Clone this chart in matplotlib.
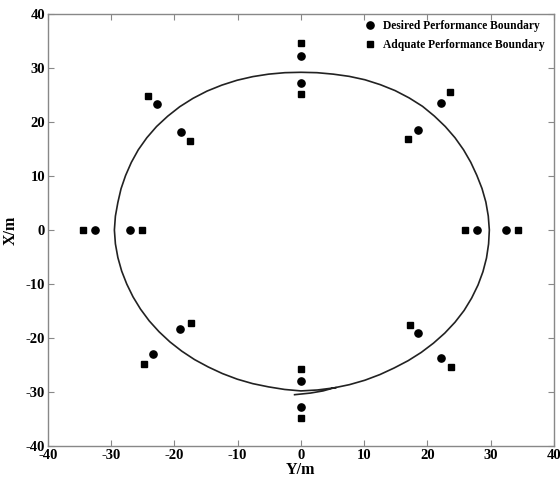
import matplotlib
matplotlib.use("Agg")
import matplotlib.pyplot as plt

plt.rcParams['font.family'] = ['Liberation Serif', 'DejaVu Serif']
plt.rcParams['font.weight'] = 'bold'
plt.rcParams['axes.unicode_minus'] = False

# Desired performance boundary points (Y, X)
desired_y = [0, 0, 0, 0, -32.5, -27.0, 27.8, 32.4,
             -22.8, -19.0, 22.1, 18.5, -23.4, -19.1, 22.1, 18.5]
desired_x = [32.2, 27.2, -27.9, -32.8, 0, 0, 0, 0,
             23.3, 18.1, 23.6, 18.5, -23.0, -18.3, -23.7, -19.1]

# Adequate performance boundary points (Y, X)
adequate_y = [0, 0, 0, 0, -34.5, -25.1, 25.9, 34.3,
              -24.2, -17.5, 23.6, 17.0, -24.8, -17.4, 23.7, 17.2]
adequate_x = [34.6, 25.2, -25.8, -34.9, 0, 0, 0, 0,
              24.9, 16.5, 25.5, 16.8, -24.8, -17.2, -25.4, -17.6]

# Trajectory (Y, X)
traj_y = [-1.0, 1.5, 3.5, 5.17, 7.68, 10.12, 12.50, 14.75, 16.96, 19.03, 20.96, 22.75,
          24.37, 25.81, 27.00, 28.01, 28.79, 29.35, 29.68, 29.8, 29.63, 29.25, 28.64,
          27.82, 26.86, 25.72, 24.37, 22.83, 21.10, 19.23, 17.13, 14.9, 12.56, 10.12,
          7.63, 5.10, 2.54, 0.0, -2.54, -5.10, -7.61, -10.09, -12.52, -14.85, -17.08,
          -19.16, -21.07, -22.83, -24.37, -25.72, -26.82, -27.73, -28.45, -28.95, -29.34,
          -29.5, -29.34, -28.95, -28.35, -27.54, -26.55, -25.37, -24.0, -22.44, -20.72,
          -18.84, -16.82, -14.65, -12.41, -10.06, -7.63, -5.13, -2.58, 0.0, 2.59, 5.5]
traj_x = [-30.5, -30.2, -29.8, -29.25, -28.64, -27.82, -26.77, -25.55, -24.20, -22.67, -20.96, -19.10,
          -17.08, -14.9, -12.61, -10.19, -7.72, -5.19, -2.59, 0.0, 2.59, 5.17, 7.68,
          10.12, 12.54, 14.85, 17.08, 19.16, 21.10, 22.90, 24.45, 25.81, 26.91, 27.82,
          28.45, 28.86, 29.13, 29.2, 29.13, 28.86, 28.40, 27.73, 26.82, 25.72, 24.37,
          22.83, 21.07, 19.16, 17.08, 14.85, 12.52, 10.09, 7.63, 5.10, 2.56,
          0.0, -2.56, -5.10, -7.60, -10.02, -12.39, -14.65, -16.82, -18.84, -20.72,
          -22.44, -24.0, -25.37, -26.59, -27.63, -28.45, -29.05, -29.53, -29.8, -29.63, -29.2]

ticks = [-40, -30, -20, -10, 0, 10, 20, 30, 40]

fig = plt.figure(figsize=(5.6, 4.82), dpi=100)
ax = fig.add_axes([0.0857, 0.0747, 0.9033, 0.8963])

ax.plot(traj_y, traj_x, color='#222222', lw=1.2, zorder=2)
ax.plot(desired_y, desired_x, 'o', color='black', ms=5.2, ls='none',
        label='Desired Performance Boundary', zorder=3)
ax.plot(adequate_y, adequate_x, 's', color='black', ms=5.0, ls='none',
        label='Adquate Performance Boundary', zorder=3)

ax.set_xlim(-40, 40)
ax.set_ylim(-40, 40)
ax.set_xticks(ticks)
ax.set_yticks(ticks)
ax.tick_params(direction='in', length=4, color='#888888', labelsize=10.5,
               top=True, right=True, pad=2)
for lab in ax.get_xticklabels() + ax.get_yticklabels():
    lab.set_fontweight('bold')
for s in ax.spines.values():
    s.set_color('#888888')
    s.set_linewidth(1.0)

ax.set_xlabel('Y/m', fontsize=11.5, fontweight='bold', labelpad=0)
ax.set_ylabel('X/m', fontsize=11.5, fontweight='bold', labelpad=5)

leg = ax.legend(loc='upper right', bbox_to_anchor=(0.997, 1.004), frameon=False,
                prop={'size': 8.3, 'weight': 'bold'},
                handletextpad=0.5, borderaxespad=0.3, labelspacing=0.58, handlelength=1.2)

fig.savefig('out.png', dpi=100)
